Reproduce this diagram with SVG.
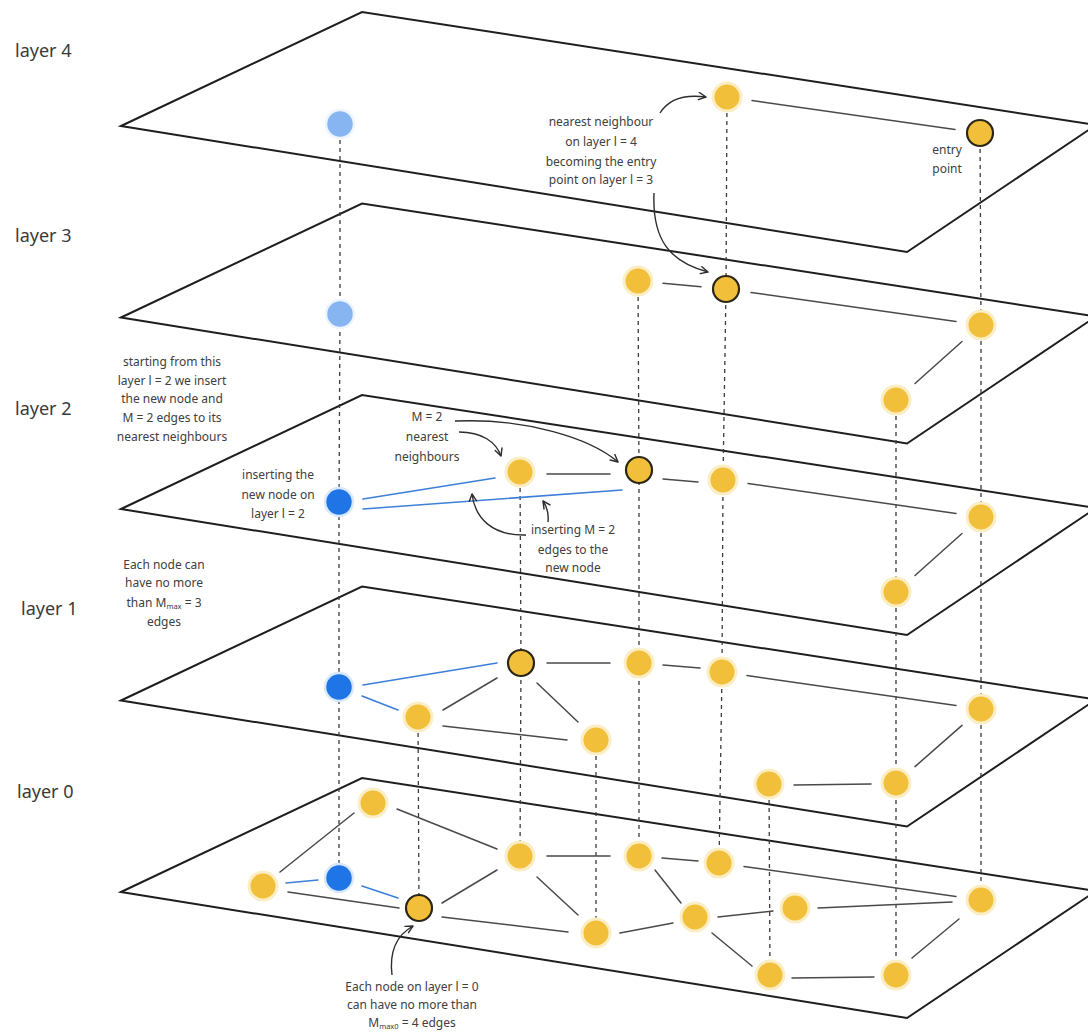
<svg xmlns="http://www.w3.org/2000/svg" width="1088" height="1033" viewBox="0 0 1088 1033">
<defs>
<marker id="ah" viewBox="0 0 10 10" refX="9" refY="5" markerWidth="9" markerHeight="9" markerUnits="userSpaceOnUse" orient="auto">
<path d="M1,1 L9,5 L1,9" fill="none" stroke="#2d2d2d" stroke-width="1.6" stroke-linecap="round" stroke-linejoin="round"/>
</marker>
<polygon id="plane" points="121,126 362,12 1096,125 907,252"/>
</defs>
<style>
.pl{fill:none;stroke:#1e1e1e;stroke-width:2;stroke-linejoin:miter}
.dash{fill:none;stroke:#3c3c3c;stroke-width:1.3;stroke-dasharray:4 4}
.e{stroke:#4a4a4a;stroke-width:1.5;stroke-linecap:round}
.eb{stroke:#3d7fd9;stroke-width:1.6;stroke-linecap:round}
.y{fill:#f1bf3a;stroke:#fbeec4;stroke-width:3}
.o{fill:#f1bf3a;stroke:#2b2617;stroke-width:2.2}
.b{fill:#1f74e6;stroke:#d9e8fb;stroke-width:2.5}
.lb{fill:#86b5f2;stroke:#eef4fd;stroke-width:2.5}
.lbl{font-family:"Noto Sans","DejaVu Sans",sans-serif;font-size:18px;fill:#3a3a3a}
.t{font-family:"Noto Sans","DejaVu Sans",sans-serif;font-size:12px;fill:#404040;text-anchor:middle}
.sub{font-size:7.5px}
.arr{fill:none;stroke:#2d2d2d;stroke-width:1.4;marker-end:url(#ah)}
</style>
<rect width="1088" height="1033" fill="#ffffff"/>

<g id="planes">
<use href="#plane" class="pl"/>
<use href="#plane" class="pl" transform="translate(0,191.5)"/>
<use href="#plane" class="pl" transform="translate(0,383)"/>
<use href="#plane" class="pl" transform="translate(0,574.5)"/>
<use href="#plane" class="pl" transform="translate(0,766)"/>
</g>

<g id="layer-labels">
<text class="lbl" x="15" y="57">layer 4</text>
<text class="lbl" x="15" y="242">layer 3</text>
<text class="lbl" x="15" y="415">layer 2</text>
<text class="lbl" x="21" y="615">layer 1</text>
<text class="lbl" x="17" y="798">layer 0</text>
</g>

<g id="connectors">
<g id="vertical-links">
<polyline class="dash" points="340,124 340,314 339,502 339,687 339,878"/>
<polyline class="dash" points="418,717 419,908"/>
<polyline class="dash" points="520,472 521,663 520,856"/>
<polyline class="dash" points="596,740 596,933"/>
<polyline class="dash" points="638,281 639,470 639,663 639,856"/>
<polyline class="dash" points="727,97 726,289 723,480 722,672 719,863"/>
<polyline class="dash" points="769,784 770,975"/>
<polyline class="dash" points="896,400 896,592 896,783 896,975"/>
<polyline class="dash" points="980,133 981,325 981,517 981,709 981,900"/>
</g>
<g id="edges-l4">
<line class="e" x1="752" y1="100.5" x2="955" y2="129.5"/>
</g>
<g id="edges-l3">
<line class="e" x1="663" y1="283.3" x2="701" y2="286.7"/>
<line class="e" x1="751" y1="292.5" x2="956" y2="321.5"/>
<line class="e" x1="962" y1="341.5" x2="915" y2="383.5"/>
</g>
<g id="edges-l2">
<line class="eb" x1="363" y1="499" x2="495" y2="478"/>
<line class="eb" x1="363" y1="509" x2="622" y2="490"/>
<line class="e" x1="547" y1="474" x2="610" y2="474"/>
<line class="e" x1="663" y1="479" x2="698" y2="482"/>
<line class="e" x1="748" y1="483.5" x2="956" y2="513.5"/>
<line class="e" x1="962" y1="533.5" x2="915" y2="575.5"/>
</g>
<g id="edges-l1">
<line class="eb" x1="363" y1="685" x2="497" y2="663"/>
<line class="eb" x1="362" y1="696" x2="398" y2="710"/>
<line class="e" x1="443" y1="710" x2="497" y2="678"/>
<line class="e" x1="443" y1="726" x2="567" y2="740"/>
<line class="e" x1="537" y1="683" x2="578" y2="722"/>
<line class="e" x1="547" y1="663" x2="610" y2="663"/>
<line class="e" x1="663" y1="665" x2="700" y2="668"/>
<line class="e" x1="747" y1="675.5" x2="956" y2="705.5"/>
<line class="e" x1="962" y1="725.4" x2="915" y2="766.6"/>
<line class="e" x1="794" y1="785" x2="871" y2="784"/>
</g>
<g id="edges-l0">
<line class="e" x1="354" y1="813" x2="280" y2="872"/>
<line class="e" x1="397" y1="809" x2="497" y2="849"/>
<line class="eb" x1="286" y1="883" x2="318" y2="880"/>
<line class="e" x1="288" y1="892" x2="399" y2="908"/>
<line class="eb" x1="362" y1="886" x2="398" y2="898"/>
<line class="e" x1="442" y1="903" x2="497" y2="870"/>
<line class="e" x1="442" y1="917" x2="568" y2="932"/>
<line class="e" x1="547" y1="856" x2="610" y2="856"/>
<line class="e" x1="537" y1="877" x2="578" y2="915"/>
<line class="e" x1="662" y1="858" x2="698" y2="861"/>
<line class="e" x1="655" y1="870" x2="681" y2="903"/>
<line class="e" x1="620" y1="933" x2="673" y2="923"/>
<line class="e" x1="718" y1="917" x2="773" y2="911"/>
<line class="e" x1="744" y1="866.5" x2="956" y2="896.5"/>
<line class="e" x1="818" y1="908" x2="952" y2="902"/>
<line class="e" x1="712" y1="933" x2="752" y2="966"/>
<line class="e" x1="792" y1="978" x2="874" y2="977"/>
<line class="e" x1="912" y1="958" x2="959" y2="919"/>
</g>
<g id="annotation-arrows">
<path class="arr" d="M660,113 C668,100 684,94 706,97"/>
<path class="arr" d="M654,193 C652,240 670,262 708,272"/>
<path class="arr" d="M455,421 C525,418 590,438 618,462"/>
<path class="arr" d="M459,432 C482,432 496,442 501,456"/>
<path class="arr" d="M526,535 C492,536 475,518 472,494"/>
<path class="arr" d="M548,522 C549,513 547,507 543,501"/>
<path class="arr" d="M392,975 C389,950 397,935 413,926"/>
</g>
</g>

<g id="nodes-l4">
<circle id="n4-new" class="lb" cx="340" cy="124" r="14"/>
<circle id="n4-a" class="y" cx="727" cy="97" r="14"/>
<circle id="n4-entry" class="o" cx="980" cy="133" r="13"/>
</g>
<g id="nodes-l3">
<circle id="n3-new" class="lb" cx="340" cy="314" r="14"/>
<circle id="n3-a" class="y" cx="638" cy="281" r="14"/>
<circle id="n3-b" class="o" cx="726" cy="289" r="13"/>
<circle id="n3-c" class="y" cx="981" cy="325" r="14"/>
<circle id="n3-d" class="y" cx="896" cy="400" r="14"/>
</g>
<g id="nodes-l2">
<circle id="n2-new" class="b" cx="339" cy="502" r="14"/>
<circle id="n2-a" class="y" cx="520" cy="472" r="14"/>
<circle id="n2-b" class="o" cx="639" cy="470" r="13"/>
<circle id="n2-c" class="y" cx="723" cy="480" r="14"/>
<circle id="n2-d" class="y" cx="981" cy="517" r="14"/>
<circle id="n2-e" class="y" cx="896" cy="592" r="14"/>
</g>
<g id="nodes-l1">
<circle id="n1-new" class="b" cx="339" cy="687" r="14"/>
<circle id="n1-a" class="y" cx="418" cy="717" r="14"/>
<circle id="n1-b" class="o" cx="521" cy="663" r="13"/>
<circle id="n1-c" class="y" cx="639" cy="663" r="14"/>
<circle id="n1-d" class="y" cx="722" cy="672" r="14"/>
<circle id="n1-e" class="y" cx="596" cy="740" r="14"/>
<circle id="n1-f" class="y" cx="981" cy="709" r="14"/>
<circle id="n1-g" class="y" cx="896" cy="783" r="14"/>
<circle id="n1-h" class="y" cx="769" cy="784" r="14"/>
</g>
<g id="nodes-l0">
<circle id="n0-a" class="y" cx="373" cy="803" r="14"/>
<circle id="n0-b" class="y" cx="263" cy="886" r="14"/>
<circle id="n0-new" class="b" cx="339" cy="878" r="14"/>
<circle id="n0-c" class="o" cx="419" cy="908" r="13"/>
<circle id="n0-d" class="y" cx="520" cy="856" r="14"/>
<circle id="n0-e" class="y" cx="639" cy="856" r="14"/>
<circle id="n0-f" class="y" cx="719" cy="863" r="14"/>
<circle id="n0-g" class="y" cx="596" cy="933" r="14"/>
<circle id="n0-h" class="y" cx="695" cy="917" r="14"/>
<circle id="n0-i" class="y" cx="795" cy="908" r="14"/>
<circle id="n0-j" class="y" cx="981" cy="900" r="14"/>
<circle id="n0-k" class="y" cx="770" cy="975" r="14"/>
<circle id="n0-l" class="y" cx="896" cy="975" r="14"/>
</g>

<g id="annotations">
<text class="t" x="601" y="126">nearest neighbour</text>
<text class="t" x="601" y="146">on layer l = 4</text>
<text class="t" x="601" y="166">becoming the  entry</text>
<text class="t" x="601" y="184">point on layer l = 3</text>
<text class="t" x="947" y="154">entry</text>
<text class="t" x="947" y="173">point</text>
<text class="t" x="172" y="366">starting from this</text>
<text class="t" x="172" y="385">layer l = 2 we insert</text>
<text class="t" x="172" y="403">the new  node and</text>
<text class="t" x="172" y="422">M = 2 edges to its</text>
<text class="t" x="172" y="441">nearest neighbours</text>
<text class="t" x="427" y="421">M = 2</text>
<text class="t" x="427" y="441">nearest</text>
<text class="t" x="427" y="461">neighbours</text>
<text class="t" x="278" y="479">inserting the</text>
<text class="t" x="278" y="499">new node on</text>
<text class="t" x="278" y="518">layer l = 2</text>
<text class="t" x="573" y="534">inserting M = 2</text>
<text class="t" x="573" y="554">edges to the</text>
<text class="t" x="573" y="572">new node</text>
<text class="t" x="164" y="569">Each node can</text>
<text class="t" x="164" y="587">have no more</text>
<text class="t" x="164" y="607">than M<tspan class="sub" dy="2">max</tspan><tspan dy="-2"> = 3</tspan></text>
<text class="t" x="164" y="626">edges</text>
<text class="t" x="412" y="991">Each node on layer l = 0</text>
<text class="t" x="412" y="1009">can have no more than</text>
<text class="t" x="412" y="1027">M<tspan class="sub" dy="2">max0</tspan><tspan dy="-2"> = 4 edges</tspan></text>
</g>
</svg>
